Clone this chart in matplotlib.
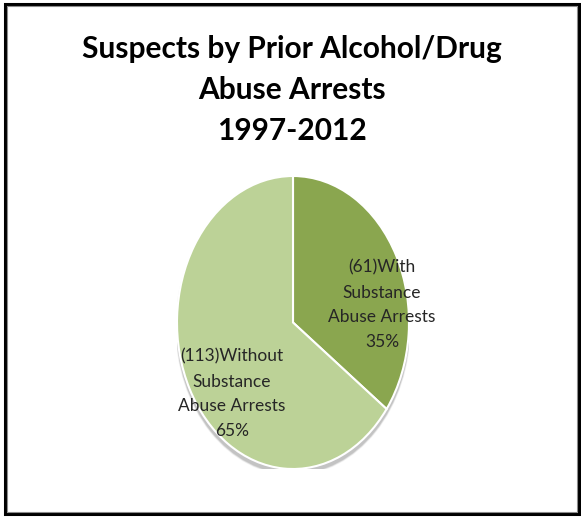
import matplotlib.pyplot as plt
from matplotlib.patches import Ellipse, Rectangle

W, H = 581, 517
DPI = 100

TITLE = "Suspects by Prior Alcohol/Drug\nAbuse Arrests\n1997-2012"
counts = [61, 113]
names = ["With\nSubstance\nAbuse Arrests", "Without\nSubstance\nAbuse Arrests"]
colors = ["#8AA64F", "#BCD297"]

plt.rcParams["font.family"] = ["Lato", "DejaVu Sans"]

fig = plt.figure(figsize=(W / DPI, H / DPI), dpi=DPI)


def px_box(x0, y0, x1, y1):
    # pixel box (top-left origin) -> figure fraction [left, bottom, width, height]
    return [x0 / W, 1 - y1 / H, (x1 - x0) / W, (y1 - y0) / H]


# outer frame
fig.patches.append(Rectangle((5 / W, 3.5 / H), 573.5 / W, 510 / H,
                             transform=fig.transFigure, fill=False,
                             edgecolor="black", linewidth=2.2))
fig.patches.append(Rectangle((7 / W, 5.5 / H), 569.5 / W, 506 / H,
                             transform=fig.transFigure, fill=False,
                             edgecolor="#8c8c8c", linewidth=0.8))

fig.text(292 / W, 1 - 90 / H, TITLE, ha="center", va="center",
         fontsize=21.5, fontweight="bold", linespacing=1.55, color="black")

# pie is drawn stretched into an ellipse
ax = fig.add_axes(px_box(177, 176, 409, 469))

# soft drop shadow under the pie
for i, a in enumerate([0.04, 0.05, 0.07, 0.09]):
    grow = 0.03 - i * 0.007
    ax.add_patch(Ellipse((0.0, -0.03), 2 + grow, 2 + grow,
                         facecolor="#000000", alpha=a, edgecolor="none",
                         zorder=0))

wedges, _ = ax.pie(counts, colors=colors, startangle=90, counterclock=False,
                   wedgeprops=dict(edgecolor="white", linewidth=1.5))
for w in wedges:
    w.set_zorder(2)

total = sum(counts)
label_pos = [(0.767, 0.12), (-0.526, -0.488)]
for n, name, (lx, ly) in zip(counts, names, label_pos):
    pct = round(100 * n / total)
    ax.text(lx, ly, f"({n}){name}\n{pct}%", ha="center", va="center",
            fontsize=12.5, color="#262626", linespacing=1.68, clip_on=False,
            zorder=3)

ax.set_aspect("auto")
ax.set_xlim(-1, 1)
ax.set_ylim(-1, 1)
ax.axis("off")

fig.savefig("out.png", dpi=DPI)
